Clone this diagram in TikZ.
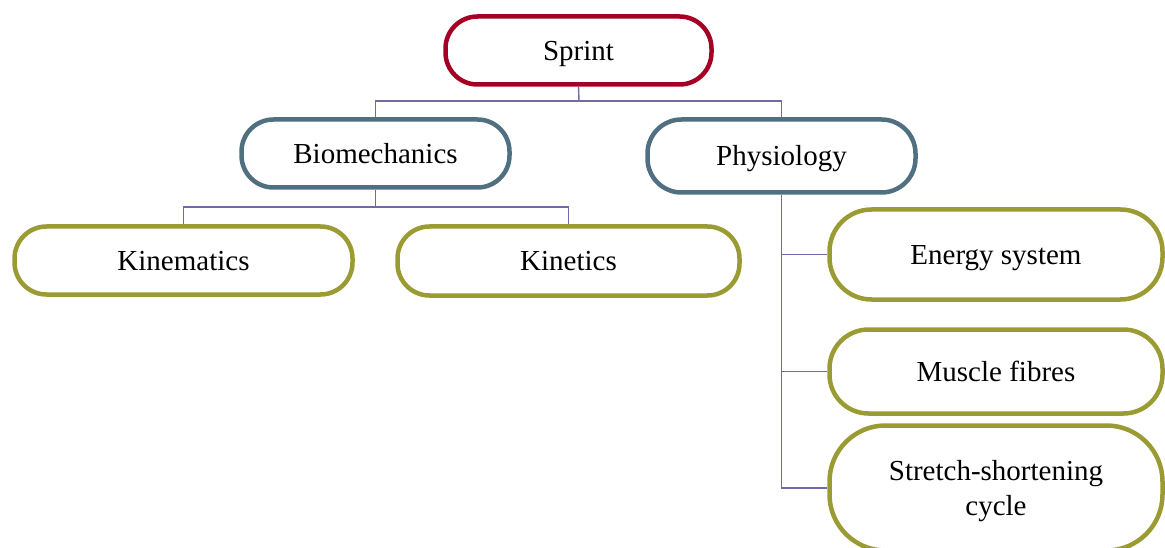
\documentclass[tikz,border=0pt]{standalone}
\usepackage{fontspec}
\setmainfont{Liberation Serif}
\usepackage{tikz}
\usetikzlibrary{positioning, calc}
\definecolor{rootred}{RGB}{165,0,35}
\definecolor{midslate}{RGB}{80,112,130}
\definecolor{leafolive}{RGB}{155,155,52}
\definecolor{linkpurple}{RGB}{112,106,165}
\tikzset{
  pill/.style={rectangle, fill=white, inner sep=0pt, align=center,
    rounded corners=#1, line width=4.5pt, text height=24pt, text depth=4pt,
    font=\fontsize{29}{34.5}\selectfont},
  pill/.default=32pt,
  rootpill/.style={pill=#1, draw=rootred},
  rootpill/.default=32pt,
  midpill/.style={pill=#1, draw=midslate},
  midpill/.default=32pt,
  leafpill/.style={pill=#1, draw=leafolive},
  leafpill/.default=32pt,
  conn/.style={line width=1.4pt, color=linkpurple}
}
\begin{document}
\begin{tikzpicture}[x=1pt, y=-1pt]
  \useasboundingbox (0,0) rectangle (1165,548);
  \clip (0,0) rectangle (1165,548);

  % tree lines
  \coordinate (top) at (579,101);
  \coordinate (bioj) at (375.5,207);

  \node[rootpill, minimum width=266pt, minimum height=68pt] (sprint) at (578.5,50.5) {Sprint};

  \node[midpill, minimum width=268pt, minimum height=68pt] (bio) at (375.5,153.5) {Biomechanics};
  \node[midpill=34pt, minimum width=268pt, minimum height=73pt] (phys) at (781.5,156) {Physiology};

  \node[leafpill, minimum width=338pt, minimum height=68pt] (kinem) at (183.5,260.5) {Kinematics};
  \node[leafpill, minimum width=342pt, minimum height=69pt] (kinet) at (568.5,261) {Kinetics};

  \node[leafpill=42pt, minimum width=333pt, minimum height=90pt] (energy) at (996,254.5) {Energy system};
  \node[leafpill=39pt, minimum width=333pt, minimum height=84pt] (muscle) at (996,371.5) {Muscle fibres};
  \node[leafpill=56pt, text height=, text depth=0pt, minimum width=333pt, minimum height=125pt] (ssc) at (996,488) {Stretch-shortening\\cycle};

  \draw[conn] (sprint.south) -- (top);
  \draw[conn] (top) -| (bio.north);
  \draw[conn] (top) -| (phys.north);

  \draw[conn] (bio.south) -- (bioj);
  \draw[conn] (bioj) -| (kinem.north);
  \draw[conn] (bioj) -| (kinet.north);

  \draw[conn] (phys.south) |- (ssc.west);
  \draw[conn] (phys.south |- energy.west) -- (energy.west);
  \draw[conn] (phys.south |- muscle.west) -- (muscle.west);
\end{tikzpicture}
\end{document}
